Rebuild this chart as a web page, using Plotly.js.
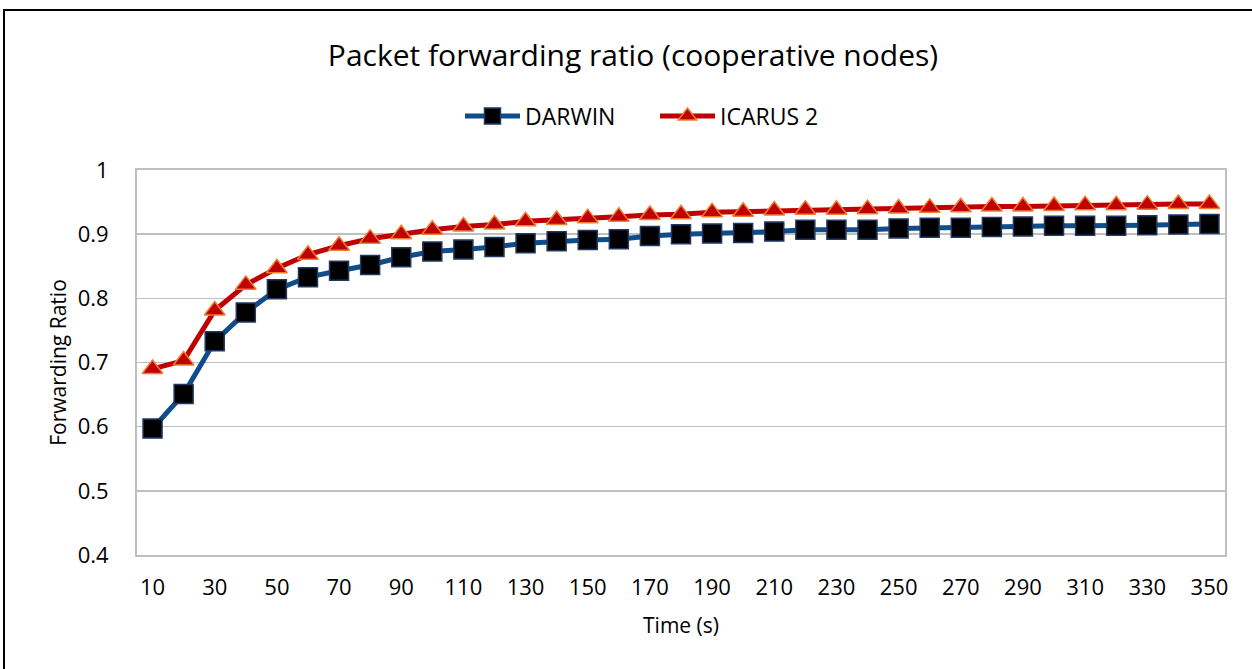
<!DOCTYPE html>
<html>
<head>
<meta charset="utf-8">
<script src="https://cdn.plot.ly/plotly-3.0.1.min.js"></script>
<style>
  html, body { margin: 0; padding: 0; overflow: hidden; background: #fff; }
  #chart { width: 1252px; height: 669px; position: absolute; left: 0; top: 0; }
  #frame { position: absolute; left: 3px; top: 9px; width: 1300px; height: 700px;
           border: 2px solid #000; pointer-events: none; }
</style>
</head>
<body>
<div id="chart"></div>
<div id="frame"></div>
<script>
const timeSec = [10,20,30,40,50,60,70,80,90,100,110,120,130,140,150,160,170,180,190,200,
                 210,220,230,240,250,260,270,280,290,300,310,320,330,340,350];
const darwin = [0.597,0.651,0.733,0.778,0.814,0.833,0.843,0.852,0.864,0.873,0.876,0.880,0.886,0.889,0.891,0.892,0.897,0.900,0.901,0.902,
                0.904,0.907,0.907,0.907,0.909,0.910,0.910,0.911,0.912,0.913,0.913,0.913,0.914,0.915,0.916];
const icarus2 = [0.690,0.703,0.781,0.821,0.847,0.868,0.882,0.893,0.900,0.907,0.912,0.915,0.920,0.922,0.925,0.927,0.930,0.931,0.934,0.935,
                 0.937,0.938,0.938,0.939,0.940,0.941,0.942,0.943,0.943,0.944,0.945,0.945,0.946,0.947,0.947];
const xTicks = [10,30,50,70,90,110,130,150,170,190,210,230,250,270,290,310,330,350];
const yTicks = [0.4,0.5,0.6,0.7,0.8,0.9,1];

const FONT = '"Open Sans", Lato, sans-serif';

const traces = [
  {
    x: timeSec, y: darwin, name: 'DARWIN', type: 'scatter', mode: 'lines+markers',
    line: {color: '#0F4C8A', width: 5},
    marker: {symbol: 'square', size: 19, color: '#000000', line: {color: '#1F3864', width: 1.5}}
  },
  {
    x: timeSec, y: icarus2, name: 'ICARUS 2', type: 'scatter', mode: 'lines+markers',
    line: {color: '#C00000', width: 5},
    marker: {symbol: 'triangle-up', size: 18, color: '#C00000', line: {color: '#ED7D31', width: 1.5}}
  }
];

const layout = {
  width: 1252, height: 669,
  margin: {l: 137, r: 27, t: 170, b: 114},
  paper_bgcolor: 'rgba(0,0,0,0)', plot_bgcolor: '#ffffff',
  font: {family: FONT, color: '#000000', size: 22},
  title: {text: 'Packet forwarding ratio (cooperative nodes)', font: {family: FONT, size: 30, color: '#000'},
          x: 633 / 1252, xref: 'container', xanchor: 'center', y: 1 - 55 / 669, yref: 'container', yanchor: 'middle'},
  showlegend: true,
  legend: {orientation: 'h', x: 655 / 1252, xref: 'container', xanchor: 'center', y: 1 - 116 / 669, yref: 'container',
           yanchor: 'middle', font: {family: FONT, size: 23, color: '#000'}, itemwidth: 55,
           entrywidth: 125, entrywidthmode: 'pixels', traceorder: 'normal'},
  xaxis: {
    type: 'linear', range: [5, 355], tickvals: xTicks, ticktext: xTicks.map(String),
    showgrid: false, zeroline: false, showline: true, linecolor: '#BFBFBF', linewidth: 2, mirror: true,
    ticks: '', ticklabelstandoff: 12, tickfont: {family: FONT, size: 22, color: '#000'},
    title: {text: 'Time (s)', font: {family: FONT, size: 21, color: '#000'}, standoff: 18}
  },
  yaxis: {
    range: [0.4, 1], tickvals: yTicks, ticktext: yTicks.map(String),
    showgrid: true, gridcolor: '#BFBFBF', gridwidth: 1.5, zeroline: false,
    showline: true, linecolor: '#BFBFBF', linewidth: 2, mirror: true,
    ticks: '', ticklabelstandoff: 22, tickfont: {family: FONT, size: 22, color: '#000'},
    title: {text: 'Forwarding Ratio', font: {family: FONT, size: 21, color: '#000'}, standoff: 5}
  }
};

Plotly.newPlot('chart', traces, layout, {displayModeBar: false, staticPlot: true});
</script>
</body>
</html>
